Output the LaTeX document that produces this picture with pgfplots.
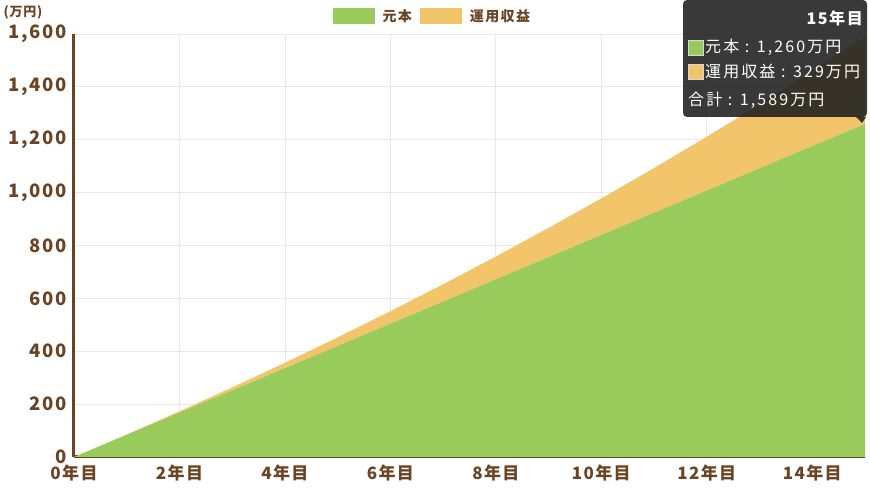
\documentclass[border=0pt]{standalone}
\usepackage{fontspec}
\setmainfont{Noto Sans CJK JP}
\usepackage{pgfplots}
\pgfplotsset{compat=1.18}
\definecolor{brn}{HTML}{6B4423}
\definecolor{grn}{HTML}{99CA5C}
\definecolor{org}{HTML}{F3C56B}
\definecolor{tipbg}{HTML}{1E1E1E}

% principal and investment return (万円) per year
\pgfplotstableread{
yr  gan   eki
0   0     0
1   84    1.2
2   168   4.9
3   252   11.3
4   336   20.5
5   420   32.5
6   504   47.4
7   588   65.4
8   672   86.4
9   756   110.7
10  840   138.2
11  924   169.1
12  1008  203.5
13  1092  241.5
14  1176  283.2
15  1260  328.8
}\datatable

\begin{document}
\begin{tikzpicture}[x=1pt,y=1pt]
\useasboundingbox (0,0) rectangle (870,489);
\begin{axis}[
    at={(74pt,32pt)}, anchor=south west,
    scale only axis, width=791pt, height=423pt,
    xmin=0, xmax=15, ymin=0, ymax=1600,
    axis x line*=bottom, axis y line*=left,
    axis line style={brn, line width=3pt, -},
    xtick={0,2,...,14}, ytick={0,200,...,1600},
    xticklabel={\pgfmathprintnumber{\tick}年目},
    major tick length=0pt,
    grid=major, grid style={gray!18, line width=0.8pt},
    tick label style={text=brn},
    xticklabel style={yshift=-4pt, font=\fontsize{17}{17}\bfseries\addfontfeature{LetterSpace=8}},
    yticklabel style={xshift=-4pt, font=\fontsize{18.5}{18.5}\bfseries\addfontfeature{LetterSpace=9}},
    /pgf/number format/.cd, 1000 sep={,}, assume math mode=true, /pgfplots/.cd,
    stack plots=y,
    legend style={at={(0.453,1.043)}, anchor=center, draw=none, fill=none,
        legend columns=2, font=\fontsize{14}{14}\bfseries\addfontfeature{LetterSpace=10}, text=brn,
        /tikz/every even column/.append style={column sep=6pt}},
    legend image code/.code={\fill[#1] (0pt,-8pt) rectangle (42pt,8pt); \path (48pt,0pt);},
]
\addplot[draw=none, fill=grn] table[x=yr, y=gan] {\datatable} \closedcycle;
\addlegendentry{元本}
\addplot[draw=none, fill=org] table[x=yr, y=eki] {\datatable} \closedcycle;
\addlegendentry{運用収益}
\end{axis}
\node[anchor=west, text=brn, font=\fontsize{13}{13}\bfseries\addfontfeature{LetterSpace=6}] at (0,477) {(万円)};
% tooltip
\fill[tipbg, opacity=0.88, rounded corners=4pt] (683,372) rectangle (867,489);
\fill[tipbg, opacity=0.88] (856,372) -- (866,372) -- (862,366) -- cycle;
\begin{scope}[font=\fontsize{16}{16}\addfontfeature{LetterSpace=13}, text=white]
\node[anchor=east, inner sep=0pt, font=\fontsize{16}{16}\bfseries\addfontfeature{LetterSpace=10}] at (863,471) {15年目};
\fill[grn, draw=white!85!black, line width=0.6pt] (688,434) rectangle (703,449);
\node[anchor=west, inner sep=0pt] at (705,441.5) {元本 : 1,260万円};
\fill[org, draw=white!85!black, line width=0.6pt] (688,410) rectangle (703,425);
\node[anchor=west, inner sep=0pt] at (705,417.5) {運用収益 : 329万円};
\node[anchor=west, inner sep=0pt] at (688,389) {合計 : 1,589万円};
\end{scope}
\end{tikzpicture}
\end{document}
